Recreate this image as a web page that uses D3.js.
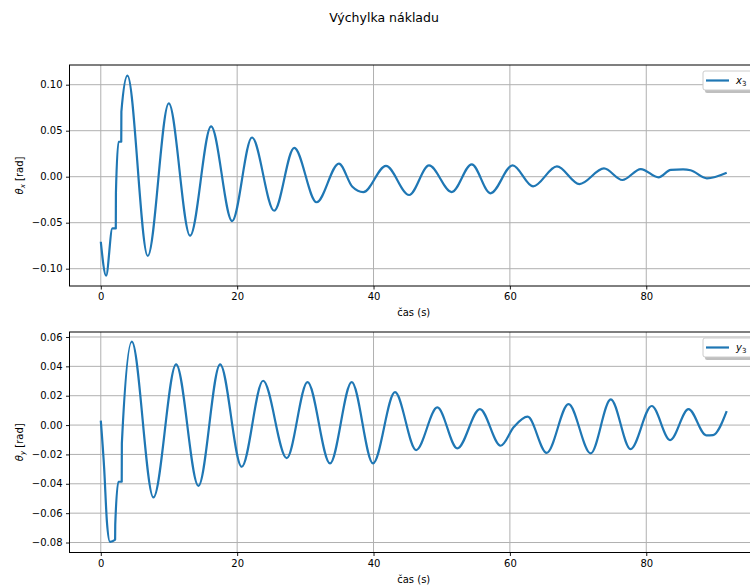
<!DOCTYPE html>
<html>
<head>
<meta charset="utf-8">
<script src="https://cdn.jsdelivr.net/npm/d3@7"></script>
<style>
  html, body { margin: 0; padding: 0; background: #fff; }
  svg { display: block; font-family: "DejaVu Sans", sans-serif; }
</style>
</head>
<body>
<svg id="fig" width="750" height="586"></svg>
<script>
// Load swing angle in x (rad) over time (s)
const timeX = [0, 0.78, 1.7, 2.2, 2.22, 2.6, 3.0, 3.02, 3.91, 6.89, 9.97, 13.1, 16.18, 19.26,
  22.17, 25.43, 28.37, 31.65, 34.92, 36.9, 38.5, 41.82, 45.22, 48.14, 51.47, 54.4, 57.15,
  60.4, 63.4, 66.9, 70.2, 73.8, 76.5, 79.2, 81.8, 83.6, 85.4, 86.5, 88.9, 91.8];
const thetaX = [-0.0707, -0.1076, -0.0562, -0.0562, -0.0174, 0.0380, 0.0380, 0.0707, 0.1098,
  -0.0862, 0.0797, -0.0641, 0.0547, -0.0482, 0.0426, -0.0370, 0.0314, -0.0278, 0.0143,
  -0.0110, -0.0168, 0.0118, -0.0199, 0.0123, -0.0167, 0.0134, -0.0181, 0.0123, -0.0105,
  0.0112, -0.0080, 0.0090, -0.0036, 0.0083, -0.0007, 0.0075, 0.0080, 0.0070, -0.0018, 0.0043];

// Load swing angle in y (rad) over time (s)
const timeY = [0, 0.5, 0.9, 1.35, 2.1, 2.12, 2.58, 3.07, 3.09, 4.55, 7.72, 11.05, 14.32, 17.5,
  20.67, 23.8, 27.27, 30.32, 33.62, 36.8, 39.93, 43.15, 46.25, 49.36, 52.29, 55.6, 58.65,
  60.6, 62.6, 65.4, 68.6, 71.85, 74.8, 77.7, 80.8, 83.5, 86.2, 88.8, 89.8, 91.8];
const thetaY = [0.0030, -0.0300, -0.0660, -0.0795, -0.0780, -0.0678, -0.0386, -0.0386,
  -0.0125, 0.0568, -0.0493, 0.0414, -0.0414, 0.0414, -0.0284, 0.0302, -0.0225, 0.0293,
  -0.0261, 0.0293, -0.0261, 0.0224, -0.0170, 0.0120, -0.0159, 0.0109, -0.0141, -0.0012,
  0.0057, -0.0189, 0.0143, -0.0193, 0.0175, -0.0164, 0.0130, -0.0102, 0.0109, -0.0070,
  -0.0068, 0.0095];

const timeTicks = [0, 20, 40, 60, 80];
const ticksX = [-0.10, -0.05, 0.00, 0.05, 0.10];
const ticksY = [-0.08, -0.06, -0.04, -0.02, 0.00, 0.02, 0.04, 0.06];

const svg = d3.select("#fig");
const blue = "#1f77b4";
const gridColor = "#b0b0b0";
const fmt = v => (v < 0 ? "\u2212" : "") + Math.abs(v).toFixed(2);

svg.append("rect").attr("width", 750).attr("height", 586).attr("fill", "#fff");

svg.append("text")
  .attr("x", 384).attr("y", 22)
  .attr("text-anchor", "middle")
  .attr("font-size", 12.5)
  .text("Výchylka nákladu");

function panel(opts) {
  const { top, bottom, xs, ys, yDomain, yTicks, sub, legendSub, legendTop } = opts;
  const left = 69.5, right = 758;
  const x = d3.scaleLinear().domain([-4.59, 96.39]).range([left, right]);
  const y = d3.scaleLinear().domain(yDomain).range([bottom, top]);
  const g = svg.append("g");

  // grid
  g.append("g").selectAll("line").data(timeTicks).join("line")
    .attr("x1", d => x(d)).attr("x2", d => x(d))
    .attr("y1", top).attr("y2", bottom)
    .attr("stroke", gridColor).attr("stroke-width", 1);
  g.append("g").selectAll("line").data(yTicks).join("line")
    .attr("x1", left).attr("x2", right)
    .attr("y1", d => y(d)).attr("y2", d => y(d))
    .attr("stroke", gridColor).attr("stroke-width", 1);

  // data line
  const pts = xs.map((t, i) => [t, ys[i]]);
  const line = d3.line().x(d => x(d[0])).y(d => y(d[1])).curve(d3.curveMonotoneX);
  g.append("path").datum(pts)
    .attr("d", line)
    .attr("fill", "none")
    .attr("stroke", blue)
    .attr("stroke-width", 2.2)
    .attr("stroke-linejoin", "round");

  // axes
  const xAxis = d3.axisBottom(x).tickValues(timeTicks).tickSize(3.5).tickPadding(3.5)
    .tickFormat(d3.format("d"));
  const gx = g.append("g").attr("transform", `translate(0,${bottom})`).call(xAxis);
  const yAxis = d3.axisLeft(y).tickValues(yTicks).tickSize(3.5).tickPadding(3.5).tickFormat(fmt);
  const gy = g.append("g").attr("transform", `translate(${left},0)`).call(yAxis);
  [gx, gy].forEach(a => {
    a.select(".domain").remove();
    a.selectAll(".tick line").attr("stroke", "#000").attr("stroke-width", 0.9);
    a.selectAll(".tick text").attr("font-size", 10).attr("fill", "#000")
      .attr("font-family", "DejaVu Sans, sans-serif");
  });

  // spines
  g.append("rect")
    .attr("x", left).attr("y", top)
    .attr("width", right - left).attr("height", bottom - top)
    .attr("fill", "none").attr("stroke", "#000").attr("stroke-width", 1);

  // x label
  g.append("text")
    .attr("x", (left + right) / 2).attr("y", bottom + 30)
    .attr("text-anchor", "middle").attr("font-size", 10)
    .text("čas (s)");

  // y label
  const yl = g.append("text")
    .attr("transform", `translate(23,${(top + bottom) / 2}) rotate(-90)`)
    .attr("text-anchor", "middle").attr("font-size", 10);
  yl.append("tspan").attr("font-style", "italic").text("θ");
  yl.append("tspan").attr("font-style", "italic").attr("font-size", 7)
    .attr("dy", 2).text(sub);
  yl.append("tspan").attr("dy", -2).text(" [rad]");

  // legend
  const lx = 703, ly = legendTop, lw = 52, lh = 19;
  g.append("rect").attr("x", lx + 2).attr("y", ly + 3).attr("width", lw).attr("height", lh)
    .attr("rx", 2).attr("fill", "#808080").attr("fill-opacity", 0.5);
  g.append("rect").attr("x", lx).attr("y", ly).attr("width", lw).attr("height", lh)
    .attr("rx", 2).attr("fill", "#fff").attr("stroke", "#cccccc").attr("stroke-width", 1);
  g.append("line").attr("x1", lx + 3).attr("x2", lx + 26)
    .attr("y1", ly + lh / 2).attr("y2", ly + lh / 2)
    .attr("stroke", blue).attr("stroke-width", 2.2);
  const lt = g.append("text").attr("x", lx + 33).attr("y", ly + lh / 2 + 3.5)
    .attr("font-size", 10);
  lt.append("tspan").attr("font-style", "italic").text(legendSub[0]);
  lt.append("tspan").attr("font-size", 7).attr("dy", 2).text(legendSub[1]);
}

panel({ top: 65, bottom: 286, xs: timeX, ys: thetaX, yDomain: [-0.1188, 0.1214],
  yTicks: ticksX, sub: "x", legendSub: ["x", "3"], legendTop: 71 });
panel({ top: 332, bottom: 552.5, xs: timeY, ys: thetaY, yDomain: [-0.0868, 0.0634],
  yTicks: ticksY, sub: "y", legendSub: ["y", "3"], legendTop: 338 });
</script>
</body>
</html>
